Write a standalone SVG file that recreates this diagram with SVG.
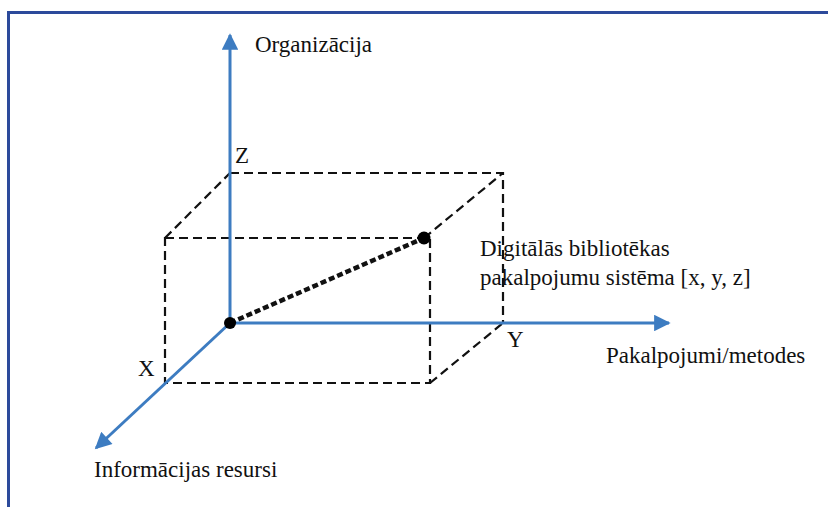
<svg xmlns="http://www.w3.org/2000/svg" width="828" height="507" viewBox="0 0 828 507">
<style>
.t{font-family:"Liberation Serif","Times New Roman",serif;font-size:23px;fill:#111}
.d{fill:none;stroke:#111;stroke-width:2.2;stroke-dasharray:9 5}
.ax{fill:none;stroke:#3d7cc1;stroke-width:3}
</style>
<defs>
<marker id="ah" viewBox="0 0 10 10" refX="9" refY="5" markerWidth="6.5" markerHeight="5.5" markerUnits="strokeWidth" orient="auto">
<path d="M0,0 L10,5 L0,10 Z" fill="#3d7cc1"/>
</marker>
</defs>
<rect width="828" height="507" fill="#fff"/>
<g id="frame">
<path d="M8.5,507 V12.5 H828" fill="none" stroke="#2c4a9b" stroke-width="3"/>
</g>
<g id="connectors">
<path class="d" d="M165,238 H430 V383 H165 Z"/>
<path class="d" d="M230,173 H503 V323"/>
<path class="d" d="M165,238 L230,173"/>
<path class="d" d="M424,238 L503,173"/>
<path class="d" d="M430,383 L503,323"/>
<line class="ax" x1="230" y1="323" x2="230" y2="35" marker-end="url(#ah)"/>
<line class="ax" x1="230" y1="323" x2="669" y2="323" marker-end="url(#ah)"/>
<line class="ax" x1="230" y1="323" x2="96" y2="448" marker-end="url(#ah)"/>
<line x1="230" y1="323" x2="424" y2="238" stroke="#111" stroke-width="4.5" stroke-dasharray="6 3"/>
</g>
<g id="origin"><circle cx="230" cy="323" r="6" fill="#000"/></g>
<g id="point"><circle cx="424" cy="238" r="6.5" fill="#000"/></g>
<g id="labels">
<text class="t" x="255" y="52">Organizācija</text>
<text class="t" x="235" y="163">Z</text>
<text class="t" x="138" y="376">X</text>
<text class="t" x="507" y="347">Y</text>
<text class="t" x="480" y="256">Digitālās bibliotēkas</text>
<text class="t" x="480" y="285">pakalpojumu sistēma [x, y, z]</text>
<text class="t" x="606" y="363">Pakalpojumi/metodes</text>
<text class="t" x="94" y="477">Informācijas resursi</text>
</g>
</svg>
